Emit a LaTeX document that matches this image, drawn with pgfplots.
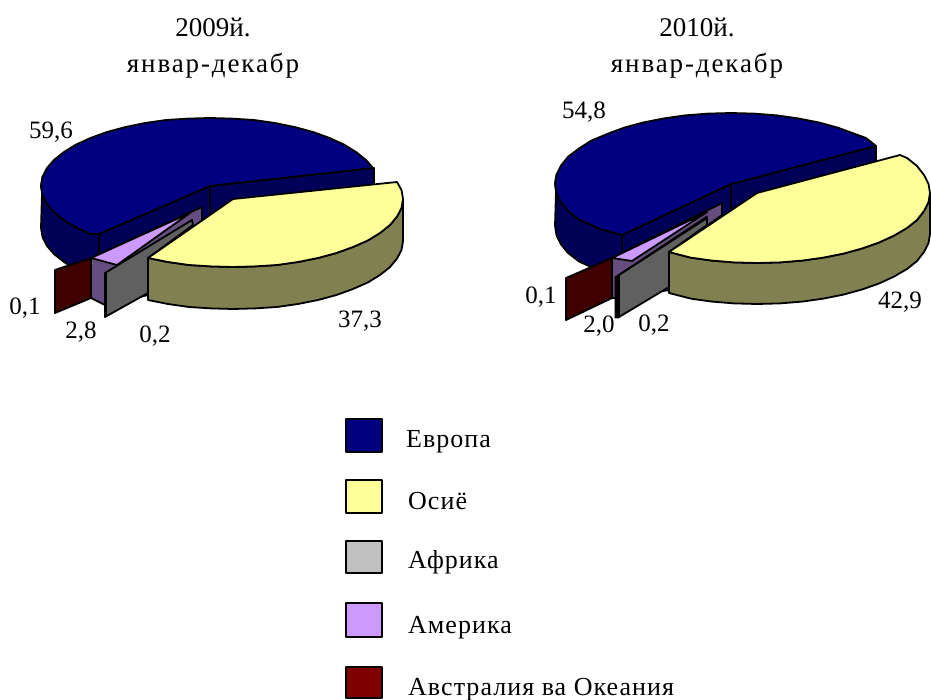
\documentclass[border=0pt]{standalone}
\usepackage{fontspec}
\setmainfont{Liberation Serif}
\newfontfamily\leg[LetterSpace=4]{Liberation Serif}
\newfontfamily\ttl[LetterSpace=7]{Liberation Serif}
\usepackage{pgfplots}
\pgfplotsset{compat=1.18}
\definecolor{eu}{HTML}{000080}\definecolor{eud}{HTML}{000058}
\definecolor{as}{HTML}{FFFF99}\definecolor{asd}{HTML}{808050}
\definecolor{af}{HTML}{C0C0C0}\definecolor{afd}{HTML}{606060}
\definecolor{am}{HTML}{CC99FF}\definecolor{amd}{HTML}{664D80}
\definecolor{au}{HTML}{800000}\definecolor{aud}{HTML}{400000}
\pgfplotsset{face/.style={fill=#1,draw=black,line width=1.8pt,line join=round,mark=none,forget plot}}
\begin{document}
\begin{tikzpicture}
\begin{axis}[hide axis,scale only axis,width=931pt,height=700pt,xmin=0,xmax=931,ymin=0,ymax=700,y dir=reverse,
  nodes={font=\fontsize{25}{28}\selectfont,text=black,inner sep=0pt}]
\path[use as bounding box] (axis cs:0,0) rectangle (axis cs:931,700);
% ---- 2009
\addplot[face=eud] coordinates {(42.5,177)(41,186)(42.5,195)(47,204)(54,212)(64,220)(76,227.4)(90.5,234)(99,234)(99,276)(90.5,276)(76,269.4)(64,262)(54,254)(47,246)(42.5,237)(41,228)} -- cycle;
\addplot[face=eud] coordinates {(99,234)(210,186)(210,228)(99,276)} -- cycle;
\addplot[face=eud] coordinates {(210,186)(374,168)(374,210)(210,228)} -- cycle;
\addplot[face=eu] coordinates {(210,186)(373,168)(366,160)(356,152)(344,144.6)(329.5,138)(313,132)(294.5,127)(275,123)(254,120)(232,118.6)(210,118)(188,118.6)(166,120)(145,123)(125.5,127)(107,132)(90.5,138)(76,144.6)(64,152)(54,160)(47,168)(42.5,177)(41,186)(42.5,195)(47,204)(54,212)(64,220)(76,227.4)(90.5,234)(99,234)} -- cycle;
\addplot[face=amd] coordinates {(91,258)(202,207)(202,222)(148,270)(148,295)(105,305)(91,298)} -- cycle;
\addplot[face=am] coordinates {(91,258)(190,213)(117,265)} -- cycle;
\addplot[face=afd] coordinates {(105,273)(192,220)(193,225)(148,258)(148,293)(105,317)} -- cycle;
\addplot[black,line width=3pt,mark=none,forget plot] coordinates {(105,273)(105,317)};
\addplot[face=asd] coordinates {(403,199)(401.5,208)(397,216.6)(390,225)(380,233)(368,240.4)(353,247)(336.5,253)(318,258)(298,262)(277,265)(255,266.4)(233,267)(211,266.4)(189,265)(168,262)(148,258)(148,300)(168,304)(189,307)(211,308.4)(233,309)(255,308.4)(277,307)(298,304)(318,300)(336.5,295)(353,289)(368,282.4)(380,275)(390,267)(397,258.6)(401.5,250)(403,241)} -- cycle;
\addplot[face=as] coordinates {(233,199)(397,182)(401.5,190)(403,199)(401.5,208)(397,216.6)(390,225)(380,233)(368,240.4)(353,247)(336.5,253)(318,258)(298,262)(277,265)(255,266.4)(233,267)(211,266.4)(189,265)(168,262)(148,258)} -- cycle;
\addplot[face=aud] coordinates {(55,270)(91,258)(91,298)(55,313)} -- cycle;
% ---- 2010
\addplot[face=eud] coordinates {(556.5,174.7)(555,184)(556.5,193.3)(561,202.4)(568,211)(579,219.5)(600,229)(622,235)(622,277)(600,271)(579,261.5)(568,253)(561,244.4)(556.5,235.3)(555,226)} -- cycle;
\addplot[face=eud] coordinates {(622,235)(731,184)(731,226)(622,277)} -- cycle;
\addplot[face=eud] coordinates {(731,184)(876,146)(876,188)(731,226)} -- cycle;
\addplot[face=eu] coordinates {(731,184)(876,146)(866,138)(855,134)(838,127.7)(819,122.5)(798,118.4)(777,115.4)(754,113.6)(731,113)(708,113.6)(685,115.4)(664,118.4)(643,122.5)(624,127.7)(607,134)(591,140.8)(579,148.5)(568,156.8)(561,165.6)(556.5,174.7)(555,184)(556.5,193.3)(561,202.4)(568,211)(579,219.5)(600,229)(622,235)} -- cycle;
\addplot[face=amd] coordinates {(612,258)(722,203)(722,215)(670,252)(670,290)(615,298)(612,298)} -- cycle;
\addplot[face=am] coordinates {(612,258)(707,212)(632,261)} -- cycle;
\addplot[face=afd] coordinates {(619,275)(707,218)(707,225)(669,252)(669,287)(619,317)} -- cycle;
\addplot[fill=black,draw=black,line width=0.8pt,mark=none,forget plot] coordinates {(615,277)(707,216)(707,218)(619,275)(619,318)(615,318)} -- cycle;
\addplot[face=asd] coordinates {(930,193)(928.5,202)(924,211)(917,220)(907,228)(894,235.6)(879,242.5)(862,248.5)(843.5,253.6)(823,257.7)(802,260.6)(780,262.4)(757,263)(734,262.4)(712,260.6)(691,257.7)(669,252)(669,293)(691,298.7)(712,301.6)(734,303.4)(757,304)(780,303.4)(802,301.6)(823,298.7)(843.5,294.6)(862,289.5)(879,283.5)(894,276.6)(907,269)(917,261)(924,252)(928.5,243)(930,234)} -- cycle;
\addplot[face=as] coordinates {(757,193)(900,155)(907,158)(917,166)(924,175)(928.5,184)(930,193)(928.5,202)(924,211)(917,220)(907,228)(894,235.6)(879,242.5)(862,248.5)(843.5,253.6)(823,257.7)(802,260.6)(780,262.4)(757,263)(734,262.4)(712,260.6)(691,257.7)(669,252)} -- cycle;
\addplot[face=aud] coordinates {(566,278)(612,258)(612,298)(566,320)} -- cycle;
% ---- legend
\addplot[face=eu] coordinates {(346,419)(382,419)(382,452)(346,452)} -- cycle;
\addplot[face=as] coordinates {(346,480)(382,480)(382,513)(346,513)} -- cycle;
\addplot[face=af] coordinates {(346,541)(382,541)(382,573)(346,573)} -- cycle;
\addplot[face=am] coordinates {(346,603)(382,603)(382,637)(346,637)} -- cycle;
\addplot[face=au] coordinates {(346,667)(382,667)(382,698)(346,698)} -- cycle;
% ---- text
\node[anchor=base,font=\fontsize{27}{30}\selectfont] at (axis cs:213,37) {2009й.};
\node[anchor=base,font=\fontsize{27}{30}\ttl] at (axis cs:213,73) {январ-декабр};
\node[anchor=base,font=\fontsize{27}{30}\selectfont] at (axis cs:697,37) {2010й.};
\node[anchor=base,font=\fontsize{27}{30}\ttl] at (axis cs:697,73) {январ-декабр};
\node at (axis cs:51,132) {59,6};
\node at (axis cs:25,308) {0,1};
\node at (axis cs:81,332) {2,8};
\node at (axis cs:155,336) {0,2};
\node at (axis cs:360,321) {37,3};
\node at (axis cs:584,112) {54,8};
\node at (axis cs:541,297) {0,1};
\node at (axis cs:599,326) {2,0};
\node at (axis cs:654,325) {0,2};
\node at (axis cs:900,302) {42,9};
\node[anchor=base west,font=\fontsize{26}{30}\leg] at (axis cs:406,447) {Европа};
\node[anchor=base west,font=\fontsize{26}{30}\leg] at (axis cs:408,509) {Осиё};
\node[anchor=base west,font=\fontsize{26}{30}\leg] at (axis cs:408,568) {Африка};
\node[anchor=base west,font=\fontsize{26}{30}\leg] at (axis cs:408,633) {Америка};
\node[anchor=base west,font=\fontsize{26}{30}\leg] at (axis cs:408,695) {Австралия ва Океания};
\end{axis}
\end{tikzpicture}
\end{document}
